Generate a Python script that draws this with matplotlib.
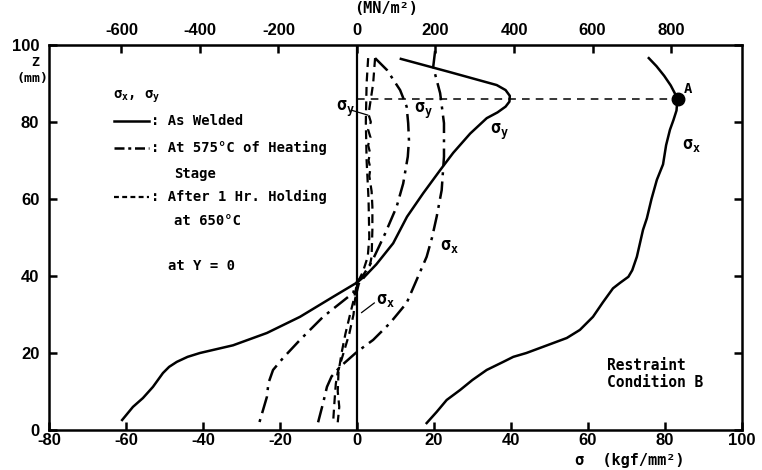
import numpy as np
import matplotlib
matplotlib.use("Agg")
import matplotlib.pyplot as plt

plt.rcParams['mathtext.default'] = 'regular'
plt.rcParams['axes.unicode_minus'] = False

# Stress sigma (kgf/mm2) versus Z (mm)
# As welded
aw_sx_x = [75.8, 77.8, 79.8, 81.5, 82.8, 83.2, 83.0, 82.2, 81.3, 80.3, 79.5, 77.9, 76.5, 75.3, 74.3, 72.7, 71.5, 70.5,
           68.3, 66.5, 63.9, 61.3, 57.9, 54.5, 51.0, 47.5, 44.0, 40.6, 38.0, 33.7, 30.0, 26.8, 23.3, 20.7, 18.1]
aw_sx_z = [96.6, 94.5, 92.0, 89.5, 87.0, 85.5, 83.0, 80.5, 78.0, 74.0, 69.0, 65.0, 60.0, 55.0, 52.0, 45.0, 41.5, 39.8,
           38.2, 36.8, 33.2, 29.4, 26.0, 23.9, 22.6, 21.3, 20.0, 19.0, 17.7, 15.6, 13.0, 10.4, 7.8, 4.7, 1.8]
aw_sy_x = [11.4, 24.0, 36.3, 38.6, 39.7, 39.6, 38.6, 36.5, 33.7, 29.4, 25.0, 21.6, 17.2, 13.0, 9.4, 5.0, 2.6, 0.0,
           -6.2, -14.8, -23.4, -32.2, -40.8, -44.0, -46.8, -48.8, -50.4, -53.0, -55.6, -58.2, -61.0]
aw_sy_z = [96.4, 93.0, 89.6, 88.3, 86.8, 85.3, 84.0, 82.5, 81.0, 77.0, 72.0, 67.5, 61.5, 55.4, 48.5, 43.0, 40.5, 38.3,
           34.6, 29.4, 25.2, 22.0, 20.0, 19.0, 17.7, 16.4, 14.8, 11.2, 8.3, 6.0, 2.6]
# At 575 C of heating stage
ht_sx_x = [20.3, 19.8, 21.6, 22.6, 22.6, 22.0, 20.7, 19.5, 18.1, 15.5, 12.9, 8.6, 4.2, 0.0, -4.4, -6.6, -7.8, -8.8, -10.1]
ht_sx_z = [98.5, 94.3, 87.5, 79.7, 71.0, 62.3, 55.4, 50.0, 45.0, 39.0, 33.0, 27.8, 23.4, 20.3, 16.4, 13.9, 11.2, 7.0, 2.0]
ht_sy_x = [4.7, 7.8, 11.2, 12.9, 13.3, 13.5, 13.2, 12.0, 10.3, 7.3, 4.0, 1.5, 0.0, -1.0, -8.8, -14.8, -19.2, -21.8,
           -23.0, -23.4, -24.4, -25.4]
ht_sy_z = [96.6, 93.5, 88.3, 84.0, 79.7, 75.3, 71.0, 64.0, 58.0, 51.0, 44.0, 40.0, 38.5, 35.6, 29.4, 23.4, 18.7, 15.6,
           12.2, 8.6, 5.2, 1.8]
# After 1 hr holding at 650 C
hd_sx_x = [2.9, 2.5, 2.3, 2.5, 3.0, 3.2, 2.8, 1.5, 0.0, -0.8, -1.8, -3.0, -4.0, -4.8, -5.0, -4.6, -5.0]
hd_sx_z = [96.6, 90.0, 80.0, 70.0, 60.0, 50.0, 45.0, 41.0, 38.0, 34.0, 30.0, 25.0, 20.0, 15.0, 10.0, 6.0, 2.0]
hd_sy_x = [4.7, 4.2, 3.6, 3.0, 3.6, 2.9, 3.5, 2.9, 3.4, 3.0, 3.5, 3.2, 3.8, 4.0, 4.0, 3.8, 3.0, 0.5, -0.5, -0.9,
           -2.0, -3.5, -5.0, -5.5, -5.8, -6.2]
hd_sy_z = [96.6, 90.0, 86.0, 82.0, 80.0, 78.0, 76.0, 74.0, 72.0, 70.0, 68.0, 66.0, 62.0, 58.0, 52.0, 45.0, 41.0,
           38.0, 34.0, 30.0, 25.0, 20.0, 15.0, 12.0, 8.0, 2.0]

point_a = (83.3, 86.0)

bottom_ticks = [-80, -60, -40, -20, 0, 20, 40, 60, 80, 100]
top_ticks = [-600, -400, -200, 0, 200, 400, 600, 800]
z_ticks = [0, 20, 40, 60, 80, 100]

KGF_TO_MN = 9.80665
mono = 'DejaVu Sans Mono'
tickfont = 'Liberation Sans'
dashdot = (0, (7, 2.5, 1.2, 2.5))
dashed = (0, (4, 2.5))

fig = plt.figure(figsize=(7.62, 4.70), dpi=100)
ax = fig.add_axes([0.0643, 0.0851, 0.9094, 0.8191])

ax.axvline(0, color='black', lw=1.6)
ax.plot(aw_sx_x, aw_sx_z, color='black', lw=1.8)
ax.plot(aw_sy_x, aw_sy_z, color='black', lw=1.8)
ax.plot(ht_sx_x, ht_sx_z, color='black', lw=1.8, linestyle=dashdot)
ax.plot(ht_sy_x, ht_sy_z, color='black', lw=1.8, linestyle=dashdot)
ax.plot(hd_sx_x, hd_sx_z, color='black', lw=1.6, linestyle=dashed)
ax.plot(hd_sy_x, hd_sy_z, color='black', lw=1.6, linestyle=dashed)

ax.plot([0, point_a[0]], [point_a[1], point_a[1]], color='black', lw=1.1, linestyle=(0, (5, 4)))
ax.plot(*point_a, 'o', color='black', markersize=9)
ax.text(point_a[0] + 1.5, point_a[1] + 1.5, 'A', fontfamily=mono, fontweight='bold', fontsize=10)

ax.set_xlim(-80, 100)
ax.set_ylim(0, 100)
ax.set_xticks(bottom_ticks)
ax.set_yticks(z_ticks)
ax.tick_params(direction='in', length=6, width=1.8, labelsize=12)
ax.tick_params(axis='x', pad=2.5)
ax.tick_params(axis='y', pad=7)
ax.tick_params(right=True, labelright=False)
for lbl in ax.get_xticklabels() + ax.get_yticklabels():
    lbl.set_fontweight('bold')
    lbl.set_fontfamily(tickfont)
for s in ax.spines.values():
    s.set_linewidth(1.8)

top = ax.secondary_xaxis('top', functions=(lambda v: v * KGF_TO_MN, lambda v: v / KGF_TO_MN))
top.set_xticks(top_ticks)
top.tick_params(direction='in', length=6, width=1.8, labelsize=12, pad=5)
for lbl in top.get_xticklabels():
    lbl.set_fontweight('bold')
    lbl.set_fontfamily(tickfont)

fig.text(0.465, 0.997, '(MN/m²)', fontfamily=mono, fontweight='bold', fontsize=11, ha='left', va='top')
fig.text(0.826, 0.004, 'σ  (kgf/mm²)', fontfamily=mono, fontweight='bold', fontsize=11,
         ha='center', va='bottom')
fig.text(0.046, 0.868, 'Z', fontfamily=mono, fontweight='bold', fontsize=9.5, ha='center', va='center')
fig.text(0.042, 0.833, '(mm)', fontfamily=mono, fontweight='bold', fontsize=9.5, ha='center', va='center')

# legend drawn as text
tk = dict(fontfamily=mono, fontweight='bold', fontsize=10, va='center')
ax.text(-63.5, 86.5, '$\\sigma_x$, $\\sigma_y$', **tk)
ax.plot([-63, -54], [80.3, 80.3], color='black', lw=1.8)
ax.text(-53.5, 80.3, ': As Welded', **tk)
ax.plot([-63, -54], [73.3, 73.3], color='black', lw=1.8, linestyle=(0, (4, 1.5, 1.2, 1.5)))
ax.text(-53.5, 73.3, ': At 575°C of Heating', **tk)
ax.text(-47.5, 66.5, 'Stage', **tk)
ax.plot([-63, -54], [60.5, 60.5], color='black', lw=1.6, linestyle=(0, (2.2, 1.5)))
ax.text(-53.5, 60.5, ': After 1 Hr. Holding', **tk)
ax.text(-47.5, 54.2, 'at 650°C', **tk)
ax.text(-49, 42.5, 'at Y = 0', **tk)
ax.text(65, 14.5, 'Restraint\nCondition B', fontfamily=mono, fontweight='bold', fontsize=10.5,
        va='center', linespacing=1.2)

ck = dict(fontfamily=mono, fontweight='bold', fontsize=12, va='center')
ax.text(-5.5, 83.5, '$\\sigma_y$', **ck)
ax.plot([-1.2, 2.8], [83.0, 81.8], color='black', lw=0.9)
ax.text(14.7, 83.0, '$\\sigma_y$', **ck)
ax.text(34.5, 77.5, '$\\sigma_y$', **ck)
ax.text(84.5, 74.0, '$\\sigma_x$', **ck)
ax.text(21.5, 47.8, '$\\sigma_x$', **ck)
ax.text(5.0, 33.8, '$\\sigma_x$', **ck)
ax.plot([4.5, 1.2], [33.0, 30.5], color='black', lw=0.9)

fig.savefig('out.png', dpi=100)
